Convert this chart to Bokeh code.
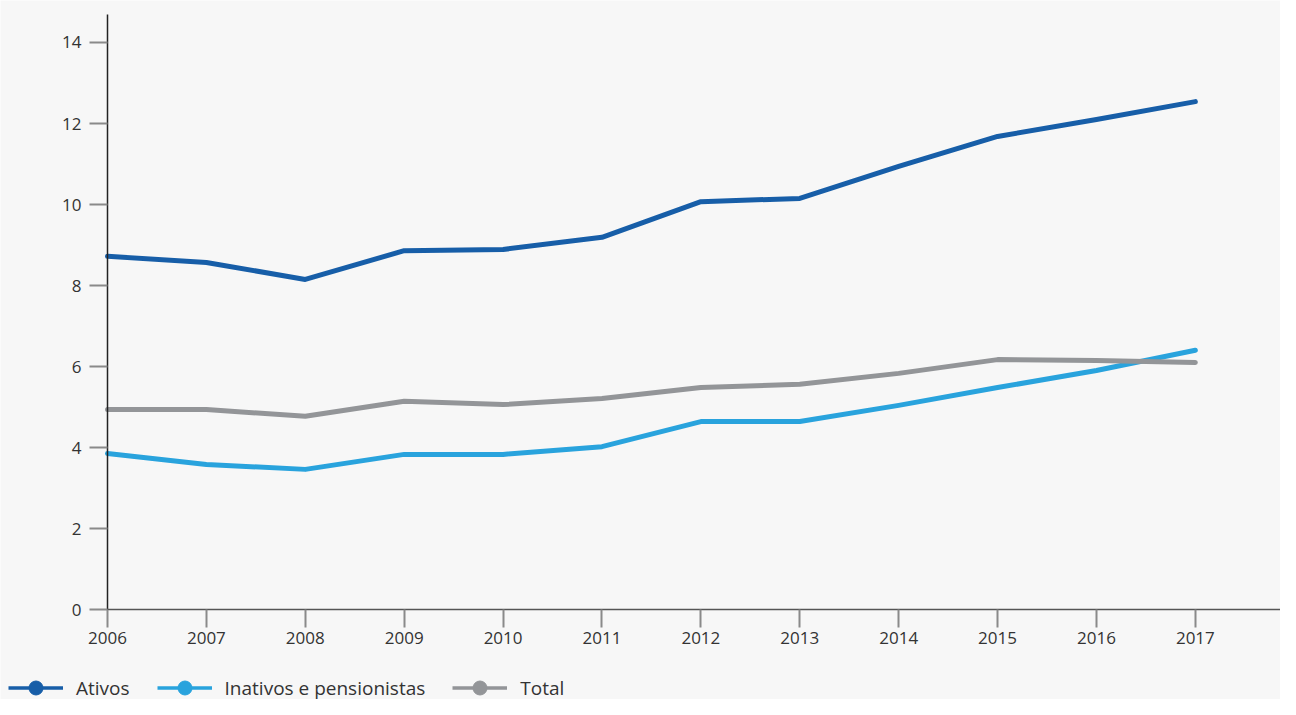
from bokeh.plotting import figure
from bokeh.models import ColumnDataSource, Legend, LegendItem, Range1d, FixedTicker
from bokeh.embed import file_html
from bokeh.resources import INLINE

years = [2006, 2007, 2008, 2009, 2010, 2011, 2012, 2013, 2014, 2015, 2016, 2017]
ativos = [8.72, 8.57, 8.15, 8.86, 8.89, 9.19, 10.07, 10.15, 10.94, 11.68, 12.10, 12.54]
inativos = [3.85, 3.58, 3.46, 3.83, 3.83, 4.02, 4.64, 4.64, 5.04, 5.48, 5.90, 6.40]
total = [4.94, 4.94, 4.77, 5.14, 5.06, 5.21, 5.48, 5.56, 5.83, 6.17, 6.15, 6.10]
y_ticks = [0, 2, 4, 6, 8, 10, 12, 14]
series_names = ["Ativos", "Inativos e pensionistas", "Total"]
colors = ["#175ea8", "#29a3dd", "#939598"]

BG = "#f7f7f7"
FONT = "Open Sans"

# frame covers the whole canvas; axes are pinned with fixed_location
p = figure(width=1280, height=699, output_backend="svg", toolbar_location=None,
           x_range=Range1d(2004.918, 2017.861), y_range=Range1d(-2.222, 15.037),
           min_border_left=0, min_border_right=0, min_border_top=0, min_border_bottom=0,
           background_fill_color=BG, border_fill_color=BG, outline_line_color=None)
p.grid.visible = False

src = ColumnDataSource(dict(year=years, ativos=ativos, inativos=inativos, total=total))
items = []
for key, name, c in zip(["ativos", "inativos", "total"], series_names, colors):
    r = p.line("year", key, source=src, line_color=c, line_width=5,
               line_cap="round", line_join="round")
    # legend-only glyphs (data placed outside the visible ranges)
    lr = p.line(x=[1990, 1991], y=[-50, -50], line_color=c, line_width=3.5)
    dot = p.scatter(x=[1990], y=[-50], size=14, marker="circle", fill_color=c, line_color=c)
    items.append(LegendItem(label=name, renderers=[lr, dot]))

# axes
p.xaxis.ticker = FixedTicker(ticks=years)
p.yaxis.ticker = FixedTicker(ticks=y_ticks)
p.xaxis.fixed_location = 0
p.yaxis.fixed_location = 2006
p.xaxis.bounds = (2006, 2017.861)
p.yaxis.bounds = (0, 14.69)
for ax in (p.xaxis[0], p.yaxis[0]):
    ax.major_label_text_font = FONT
    ax.major_label_text_font_size = "17px"
    ax.major_label_text_color = "#333333"
    ax.major_tick_out = 18
    ax.major_tick_in = 0
    ax.minor_tick_out = 0
    ax.minor_tick_in = 0
    ax.major_tick_line_color = "#8a8a8a"
    ax.major_tick_line_width = 2
p.yaxis.axis_line_color = "#222222"
p.yaxis.axis_line_width = 1.5
p.xaxis.axis_line_color = "#555555"
p.xaxis.axis_line_width = 1.5
p.yaxis.major_label_standoff = 8
p.xaxis.major_label_standoff = 4

legend = Legend(items=items, orientation="horizontal", location=(8, -6),
                glyph_width=55, glyph_height=35, label_standoff=13, spacing=27,
                padding=0, margin=0, border_line_color=None, background_fill_alpha=0,
                label_text_font=FONT, label_text_font_size="19px", label_text_color="#333333")
p.add_layout(legend, "center")

open("out.html", "w").write(file_html(p, INLINE))
